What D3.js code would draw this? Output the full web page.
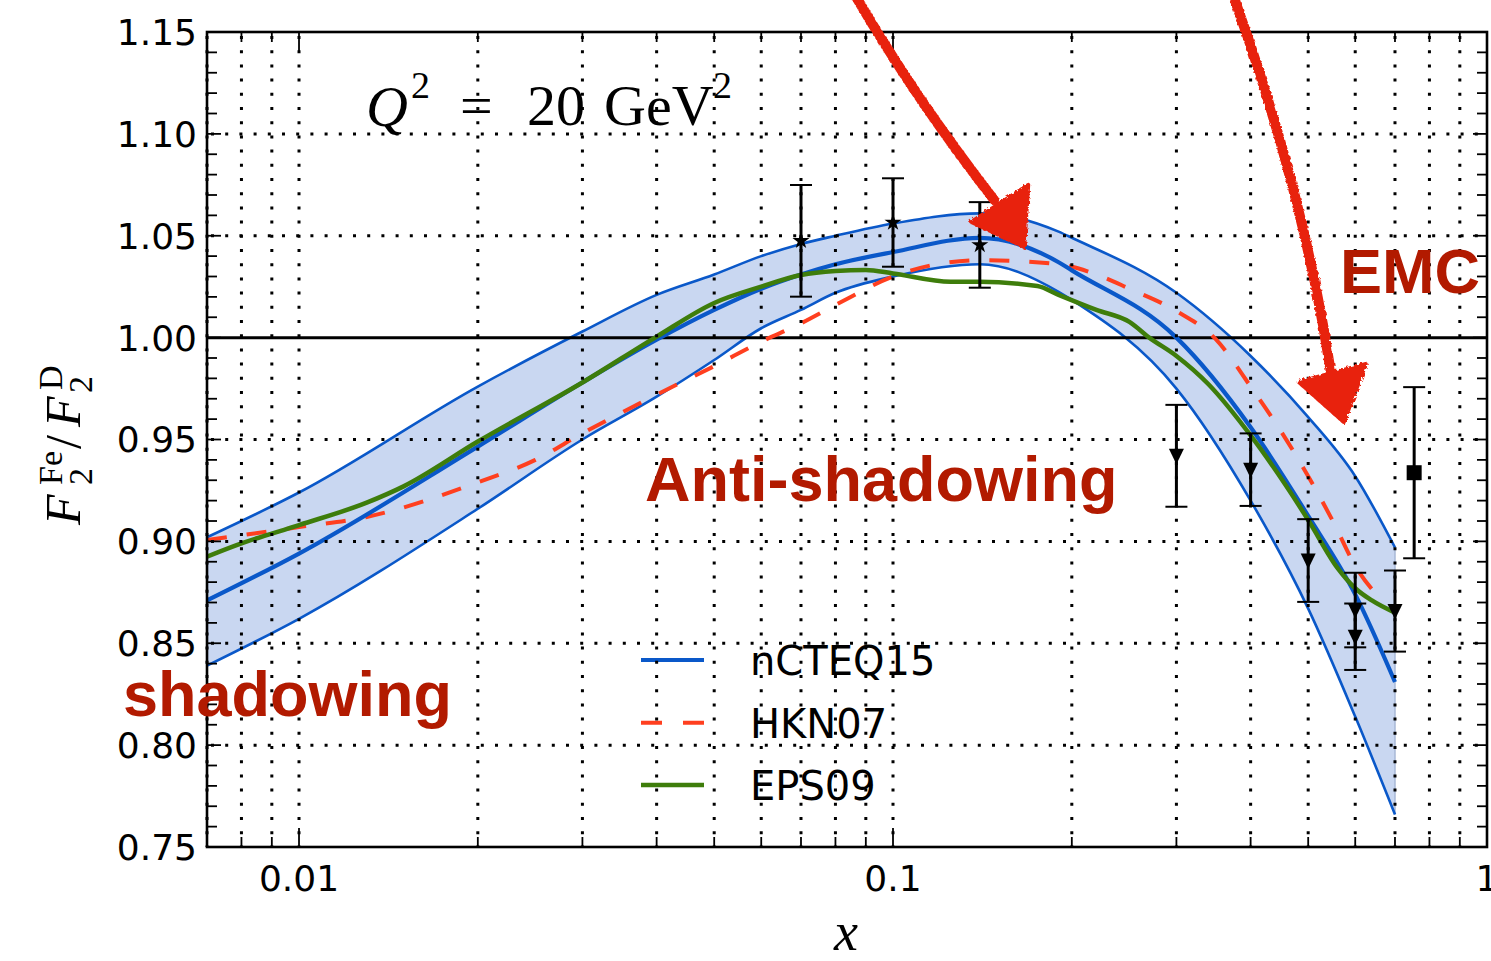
<!DOCTYPE html>
<html>
<head>
<meta charset="utf-8">
<script src="https://cdn.jsdelivr.net/npm/d3@7"></script>
<style>
  body { margin: 0; background: #fff; }
  svg { display: block; }
  .tick-label { font-family: "DejaVu Sans", sans-serif; font-size: 36px; fill: #000; }
  .tex { font-family: "Liberation Serif", "DejaVu Serif", serif; fill: #000; }
  .note { font-family: "Liberation Sans", Arial, sans-serif; font-weight: bold; font-size: 63px; fill: #b21a00; }
  .legend-label { font-family: "DejaVu Sans", sans-serif; font-size: 40px; fill: #000; }
</style>
</head>
<body>
<svg id="chart" width="1491" height="961"></svg>
<script>
// nCTEQ15 band (upper / central / lower)
const bandX     = [0.007, 0.01, 0.02, 0.03, 0.04, 0.05, 0.06, 0.07, 0.08, 0.1, 0.14, 0.19, 0.2, 0.3, 0.4, 0.5, 0.6, 0.7];
const bandUpper = [0.902, 0.924, 0.976, 1.003, 1.021, 1.031, 1.040, 1.046, 1.050, 1.056, 1.061, 1.052, 1.049, 1.022, 0.991, 0.961, 0.932, 0.897];
const central   = [0.871, 0.894, 0.9465, 0.978, 0.999, 1.0136, 1.024, 1.031, 1.036, 1.042, 1.049, 1.037, 1.033, 1.000, 0.956, 0.9125, 0.874, 0.831];
const bandLower = [0.839, 0.862, 0.916, 0.950, 0.971, 0.989, 1.0046, 1.0136, 1.022, 1.030, 1.036, 1.0225, 1.0185, 0.975, 0.920, 0.867, 0.814, 0.766];

// HKN07
const hknX = [0.007, 0.01, 0.013, 0.02, 0.025, 0.03, 0.04, 0.05, 0.06, 0.07, 0.08, 0.1, 0.14, 0.19, 0.22, 0.25, 0.3, 0.35, 0.4, 0.45, 0.5, 0.55, 0.6, 0.655];
const hknY = [0.9007, 0.907, 0.912, 0.929, 0.940, 0.953, 0.972, 0.986, 0.998, 1.007, 1.016, 1.030, 1.038, 1.036, 1.031, 1.024, 1.013, 0.999, 0.976, 0.954, 0.932, 0.910, 0.888, 0.873];

// EPS09
const epsX = [0.007, 0.008, 0.01, 0.013, 0.015, 0.02, 0.03, 0.04, 0.05, 0.06, 0.07, 0.08, 0.09, 0.1, 0.125, 0.14, 0.175, 0.19, 0.22, 0.25, 0.27, 0.3, 0.34, 0.4, 0.5, 0.56, 0.6, 0.64, 0.7];
const epsY = [0.8925, 0.899, 0.908, 0.919, 0.927, 0.949, 0.978, 1.0005, 1.017, 1.025, 1.0307, 1.0327, 1.0332, 1.0315, 1.0274, 1.0274, 1.0253, 1.021, 1.0136, 1.0077, 1.000, 0.991, 0.977, 0.952, 0.9105, 0.887, 0.877, 0.871, 0.865];

// data points
const starX = [0.07, 0.1, 0.14];
const starY = [1.0475, 1.0565, 1.0455];
const starErr = [0.0274, 0.0217, 0.021];
const triX = [0.3, 0.4, 0.5, 0.6, 0.6, 0.7];
const triY = [0.942, 0.9352, 0.8906, 0.8663, 0.8532, 0.8658];
const triErr = [0.025, 0.0178, 0.0203, 0.0183, 0.0163, 0.0199];
const sqX = [0.754];
const sqY = [0.9337];
const sqErr = [0.042];

const yTicks = [0.75, 0.80, 0.85, 0.90, 0.95, 1.00, 1.05, 1.10, 1.15];
const xMajor = [0.01, 0.1, 1];
const xMajorLabels = ['0.01', '0.1', '1'];
const legendNames = ['nCTEQ15', 'HKN07', 'EPS09'];

const BLUE = '#0a58c9', RED = '#ff3f1f', GREEN = '#3e7d0b', FILL = '#c9d7f1';

const svg = d3.select('#chart');
const L = 207, R = 1487, T = 32, B = 847;
const x = d3.scaleLog().domain([0.007, 1]).range([L, R]);
const y = d3.scaleLinear().domain([0.75, 1.15]).range([B, T]);

const defs = svg.append('defs');
defs.append('clipPath').attr('id', 'plot').append('rect')
  .attr('x', L).attr('y', T).attr('width', R - L).attr('height', B - T);
const rough = defs.append('filter').attr('id', 'rough')
  .attr('x', '-20%').attr('y', '-20%').attr('width', '140%').attr('height', '140%');
rough.append('feTurbulence').attr('type', 'fractalNoise').attr('baseFrequency', 0.35).attr('numOctaves', 2).attr('result', 'n');
rough.append('feDisplacementMap').attr('in', 'SourceGraphic').attr('in2', 'n').attr('scale', 5);

const plot = svg.append('g').attr('clip-path', 'url(#plot)');

// band
const bandData = bandX.map((v, i) => ({ x: v, lo: bandLower[i], hi: bandUpper[i], c: central[i] }));
const curve = d3.curveMonotoneX;
plot.append('path').datum(bandData)
  .attr('d', d3.area().x(d => x(d.x)).y0(d => y(d.lo)).y1(d => y(d.hi)).curve(curve))
  .attr('fill', FILL);
// right edge of the band is drawn faintly in the source
plot.append('line')
  .attr('x1', x(bandX[bandX.length - 1])).attr('x2', x(bandX[bandX.length - 1]))
  .attr('y1', y(bandUpper[bandUpper.length - 1])).attr('y2', y(bandLower[bandLower.length - 1]))
  .attr('stroke', '#a9b8d6').attr('stroke-width', 1.5);

const line = key => d3.line().x(d => x(d.x)).y(d => y(d[key])).curve(curve);
plot.append('path').datum(bandData).attr('d', line('hi'))
  .attr('fill', 'none').attr('stroke', BLUE).attr('stroke-width', 2.6);
plot.append('path').datum(bandData).attr('d', line('lo'))
  .attr('fill', 'none').attr('stroke', BLUE).attr('stroke-width', 2.6);

// 1.00 reference line
plot.append('line').attr('x1', L).attr('x2', R).attr('y1', y(1)).attr('y2', y(1))
  .attr('stroke', '#000').attr('stroke-width', 3);

plot.append('path').datum(hknX.map((v, i) => ({ x: v, v: hknY[i] })))
  .attr('d', line('v')).attr('fill', 'none').attr('stroke', RED)
  .attr('stroke-width', 4).attr('stroke-dasharray', '20 20');
plot.append('path').datum(bandData).attr('d', line('c'))
  .attr('fill', 'none').attr('stroke', BLUE).attr('stroke-width', 4.2);
plot.append('path').datum(epsX.map((v, i) => ({ x: v, v: epsY[i] })))
  .attr('d', line('v')).attr('fill', 'none').attr('stroke', GREEN).attr('stroke-width', 4.5);

// data points with error bars
function errorBars(xs, ys, es, shape) {
  const g = plot.append('g');
  xs.forEach((xv, i) => {
    const cx = x(xv), top = y(ys[i] + es[i]), bot = y(ys[i] - es[i]);
    g.append('line').attr('x1', cx).attr('x2', cx).attr('y1', top).attr('y2', bot)
      .attr('stroke', '#000').attr('stroke-width', 3);
    [top, bot].forEach(cy => g.append('line')
      .attr('x1', cx - 11).attr('x2', cx + 11).attr('y1', cy).attr('y2', cy)
      .attr('stroke', '#000').attr('stroke-width', 2));
    g.append('path').attr('transform', `translate(${cx},${y(ys[i])})`)
      .attr('d', shape).attr('fill', '#000');
  });
}
errorBars(starX, starY, starErr, d3.symbol(d3.symbolStar, 90)());
errorBars(triX, triY, triErr, 'M-7.5,-7L7.5,-7L0,8.5Z');
errorBars(sqX, sqY, sqErr, 'M-7.5,-7.5H7.5V7.5H-7.5Z');

// legend
const legendY = [0.8418, 0.811, 0.7804];
const legStyles = [
  { c: BLUE, w: 4, dash: null },
  { c: RED, w: 4, dash: '21 21' },
  { c: GREEN, w: 4.5, dash: null }
];
legendNames.forEach((name, i) => {
  const ly = y(legendY[i]);
  svg.append('line').attr('x1', 641).attr('x2', 704).attr('y1', ly).attr('y2', ly)
    .attr('stroke', legStyles[i].c).attr('stroke-width', legStyles[i].w)
    .attr('stroke-dasharray', legStyles[i].dash);
  svg.append('text').attr('class', 'legend-label').attr('x', 750).attr('y', ly + 15).text(name);
});

// grid (drawn above the curves, as in the source)
const xMinor = [];
[0.001, 0.01, 0.1].forEach(dec => { for (let k = 2; k <= 9; k++) { const v = k * dec; if (v >= 0.007 && v < 1) xMinor.push(v); } });
const grid = svg.append('g').attr('stroke', '#000').attr('stroke-width', 3)
  .attr('stroke-dasharray', '3 11.2');
xMinor.concat(xMajor.slice(0, 2)).forEach(v => grid.append('line')
  .attr('x1', x(v)).attr('x2', x(v)).attr('y1', T + 4).attr('y2', B));
yTicks.filter(v => v > 0.76 && v < 1.14 && Math.abs(v - 1) > 1e-6).forEach(v => grid.append('line')
  .attr('x1', L + 4).attr('x2', R).attr('y1', y(v)).attr('y2', y(v)));

// ticks
const tk = svg.append('g').attr('stroke', '#000').attr('stroke-width', 1.8);
for (let v = 0.75; v <= 1.1501; v += 0.01) {
  const major = yTicks.some(t => Math.abs(t - v) < 1e-6);
  const len = major ? 14 : 10;
  tk.append('line').attr('x1', L).attr('x2', L + len).attr('y1', y(v)).attr('y2', y(v));
  tk.append('line').attr('x1', R).attr('x2', R - len).attr('y1', y(v)).attr('y2', y(v));
}
xMinor.forEach(v => {
  tk.append('line').attr('x1', x(v)).attr('x2', x(v)).attr('y1', B).attr('y2', B - 10);
  tk.append('line').attr('x1', x(v)).attr('x2', x(v)).attr('y1', T).attr('y2', T + 10);
});
xMajor.forEach(v => {
  tk.append('line').attr('x1', x(v)).attr('x2', x(v)).attr('y1', B).attr('y2', B - 19);
  tk.append('line').attr('x1', x(v)).attr('x2', x(v)).attr('y1', T).attr('y2', T + 19);
});

// frame
svg.append('rect').attr('x', L).attr('y', T).attr('width', R - L).attr('height', B - T)
  .attr('fill', 'none').attr('stroke', '#000').attr('stroke-width', 2.6);

// tick labels
yTicks.forEach(v => svg.append('text').attr('class', 'tick-label')
  .attr('x', 197).attr('y', y(v)).attr('dy', '0.36em').attr('text-anchor', 'end').text(v.toFixed(2)));
xMajor.forEach((v, i) => svg.append('text').attr('class', 'tick-label')
  .attr('x', x(v)).attr('y', 891).attr('text-anchor', 'middle').text(xMajorLabels[i]));

// axis titles
svg.append('text').attr('class', 'tex').attr('x', 846).attr('y', 950)
  .attr('text-anchor', 'middle').attr('font-style', 'italic').attr('font-size', 54).text('x');

const yl = svg.append('g').attr('transform', 'translate(80,445) rotate(-90)');
const tex = (g, s, px, py, size, italic) => g.append('text').attr('class', 'tex')
  .attr('x', px).attr('y', py).attr('font-size', size)
  .attr('font-style', italic ? 'italic' : 'normal').text(s);
tex(yl, 'F', -80, 0, 50, true);
tex(yl, '2', -40, 12, 34, false);
tex(yl, 'Fe', -40, -18, 34, false);
tex(yl, '/', -4, 0, 50, false);
tex(yl, 'F', 18, 0, 50, true);
tex(yl, '2', 52, 12, 34, false);
tex(yl, 'D', 55, -18, 34, false);

// Q^2 = 20 GeV^2
const q = svg.append('g');
tex(q, 'Q', 366, 126, 58, true);
tex(q, '2', 411, 98, 38, false);
tex(q, '=', 460, 125, 58, false);
tex(q, '20', 527, 125, 58, false);
tex(q, 'GeV', 604, 125, 58, false);
tex(q, '2', 713, 98, 38, false);

// slide annotations
svg.append('text').attr('class', 'note').attr('x', 645).attr('y', 501).text('Anti-shadowing');
svg.append('text').attr('class', 'note').attr('x', 123).attr('y', 716).text('shadowing');
svg.append('text').attr('class', 'note').attr('x', 1340).attr('y', 293).text('EMC');

const arrows = [
  { tip: [0.1663, 1.0445], shaft: 'M-171,-255 Q-110,-150 -30,-47', head: 'M0,0 L-53,-25 L4,-62 Z' },
  { tip: [0.574, 0.9586], shaft: 'M-110,-425 Q-40,-230 -13,-50', head: 'M0,0 L-45,-40 L22,-58 Z' }
];
const ag = svg.append('g').attr('filter', 'url(#rough)');
arrows.forEach(a => {
  const g = ag.append('g').attr('transform', `translate(${x(a.tip[0])},${y(a.tip[1])})`);
  g.append('path').attr('d', a.shaft).attr('fill', 'none').attr('stroke', '#e8210f')
    .attr('stroke-width', 10).attr('stroke-linecap', 'round');
  g.append('path').attr('d', a.head).attr('fill', '#e8210f').attr('stroke', '#e8210f')
    .attr('stroke-width', 4).attr('stroke-linejoin', 'round');
});
</script>
</body>
</html>
